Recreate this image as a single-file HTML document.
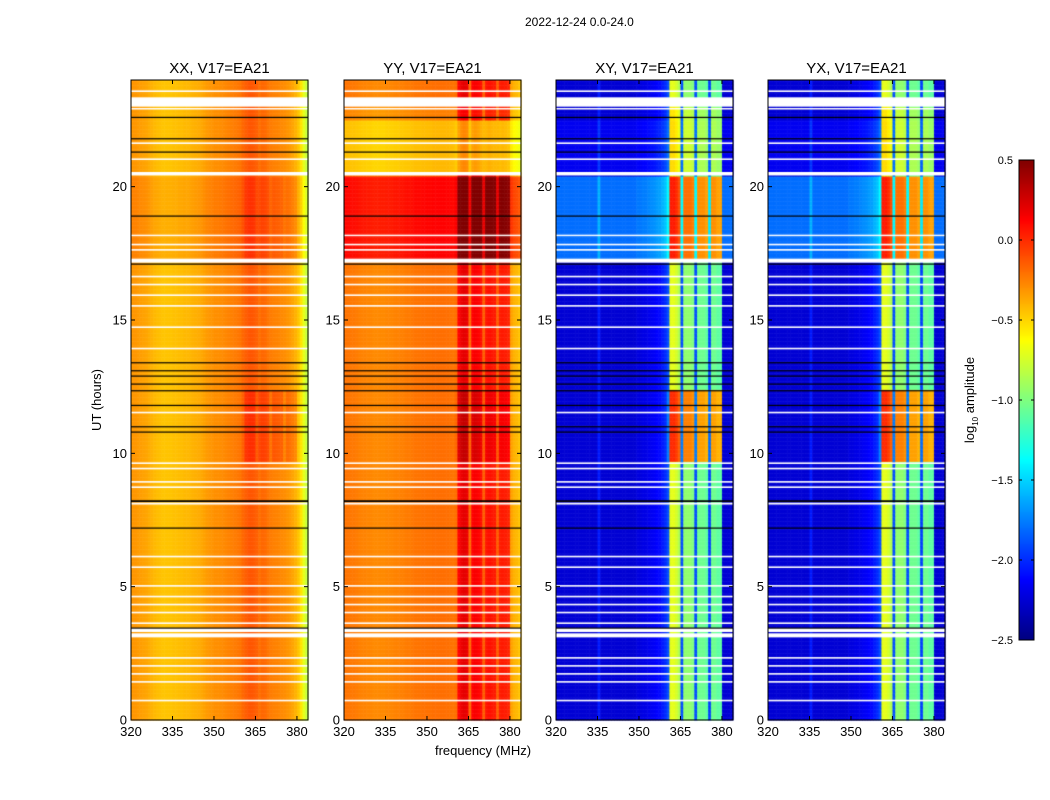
<!DOCTYPE html>
<html><head><meta charset="utf-8">
<style>
body{margin:0;background:#fff;width:1050px;height:800px;position:relative;overflow:hidden;font-family:"Liberation Sans",sans-serif;}
.t{position:absolute;font-size:13px;color:#000;white-space:nowrap}
.c{position:absolute}
svg{position:absolute;left:0;top:0}
</style></head><body>
<div class="t" style="left:525px;top:15px;font-size:12px">2022-12-24 0.0-24.0</div>
<canvas id="cv" class="c" width="1050" height="800" style="left:0;top:0"></canvas>
<svg id="ax" width="1050" height="800"></svg>
<script>
// frequency channels 320..383 MHz
const freqs = Array.from({length:64},(_, i)=>320+i);
const panelNames = ["XX, V17=EA21","YY, V17=EA21","XY, V17=EA21","YX, V17=EA21"];
const panelLeft = [131,344,556,768];
// per-channel base log10 amplitude
const profXX = [-0.32,-0.32,-0.33,-0.34,-0.35,-0.36,-0.38,-0.40,-0.42,-0.43,-0.44,-0.45,-0.45,-0.45,-0.45,-0.44,-0.44,-0.43,-0.43,-0.42,-0.42,-0.41,-0.40,-0.39,-0.38,-0.37,-0.35,-0.33,-0.32,-0.31,-0.30,-0.30,-0.29,-0.28,-0.27,-0.26,-0.25,-0.24,-0.23,-0.22,-0.18,-0.15,-0.13,-0.13,-0.14,-0.16,-0.20,-0.18,-0.19,-0.22,-0.24,-0.25,-0.26,-0.27,-0.28,-0.29,-0.31,-0.33,-0.36,-0.40,-0.45,-0.55,-0.70,-0.80];
const profYY = [-0.22,-0.22,-0.23,-0.23,-0.24,-0.25,-0.26,-0.26,-0.27,-0.27,-0.28,-0.28,-0.28,-0.28,-0.28,-0.27,-0.27,-0.27,-0.26,-0.26,-0.25,-0.25,-0.24,-0.24,-0.23,-0.22,-0.22,-0.22,-0.21,-0.21,-0.21,-0.21,-0.20,-0.20,-0.20,-0.20,-0.20,-0.20,-0.21,-0.22,-0.20,0.12,0.18,0.20,0.18,-0.18,0.12,0.14,0.12,0.08,-0.15,0.06,0.08,0.06,0.05,-0.15,0.04,0.05,0.04,0.02,-0.35,-0.40,-0.42,-0.45];
const profXY = [-2.25,-2.25,-2.25,-2.25,-2.25,-2.25,-2.25,-2.25,-2.25,-2.25,-2.25,-2.25,-2.25,-2.25,-2.25,-2.05,-2.25,-2.25,-2.25,-2.25,-2.25,-2.25,-2.25,-2.25,-2.25,-2.25,-2.25,-2.25,-2.25,-2.22,-2.22,-2.20,-2.20,-2.18,-2.16,-2.15,-2.12,-2.10,-2.05,-2.00,-1.90,-0.70,-0.70,-0.75,-0.85,-1.90,-0.95,-0.95,-0.95,-1.00,-1.90,-1.05,-1.05,-1.05,-1.10,-1.95,-1.05,-1.05,-1.10,-1.10,-2.25,-2.25,-2.25,-2.25];
const profYX = profXY.slice();
const bandWeight = [0,0,0,0,0,0,0,0,0,0,0,0,0,0,0,0,0,0,0,0,0,0,0,0,0,0,0,0,0,0,0,0,0,0,0,0,0,0,0,0,0.2,1,1,1,1,0.2,1,1,1,1,0.2,1,1,1,1,0.2,1,1,1,1,0,0,0,0];
// time segments (hours) and offsets per panel
const segStart = [17.3, 9.7, 20.55, 22.5];
const segEnd   = [20.4, 12.4, 22.5, 23.0];
const bgXX   = [0.06, 0.0, 0.0, 0.0];
const bandXX = [0.05, 0.12, 0.0, 0.0];
const bgYY   = [0.32, 0.0, -0.22, -0.05];
const bandYY = [0.12, 0.10, -0.25, 0.0];
const bgXY   = [0.45, 0.0, 0.08, 0.0];
const bandXY = [0.30, 0.70, 0.10, 0.15];
const bgYX   = [0.45, 0.0, 0.08, 0.0];
const bandYX = [0.30, 0.70, 0.10, 0.15];
// flagged (white) and separator (black) times in hours: [start,end]
const whiteStart = [23.0,22.9,20.42,17.15,3.1,3.3,8.08,0.7,1.4,1.7,2.0,2.3,3.6,4.0,4.3,4.6,5.0,5.7,6.1,15.5,14.7,15.9,16.3,16.6,11.5,9.6,9.4,8.7,8.9,17.8,17.6,21.6,21.0,23.55,18.2,13.9];
const whiteEnd   = [23.35,22.95,20.55,17.3,3.25,3.45,8.15,0.76,1.46,1.76,2.06,2.36,3.66,4.06,4.36,4.66,5.06,5.76,6.16,15.56,14.76,15.96,16.36,16.66,11.56,9.66,9.46,8.76,8.96,17.86,17.66,21.66,21.06,23.61,18.2,13.96];
const blackLines = [22.6,21.8,21.3,18.9,17.1,13.4,13.1,12.9,12.6,12.35,11.8,11.0,10.8,8.2,8.22,7.2,3.45];
const cbTicks = [0.5,0.0,-0.5,-1.0,-1.5,-2.0,-2.5];
const yTicks = [0,5,10,15,20];
const xTicks = [320,335,350,365,380];

const profs=[profXX,profYY,profXY,profYX], bgs=[bgXX,bgYY,bgXY,bgYX], bands=[bandXX,bandYY,bandXY,bandYX];
const TOP=80,BOT=720,PW=177,VMIN=-2.5,VMAX=0.5;
const yS=h=>BOT-(h/24)*(BOT-TOP);
const xS=(p,f)=>panelLeft[p]+(f-320)/64*PW;
function jet(v){let t=(v-VMIN)/(VMAX-VMIN);t=Math.max(0,Math.min(1,t));
 const f=x=>Math.max(0,Math.min(1,x));
 const r=f(1.5-Math.abs(4*t-3)),g=f(1.5-Math.abs(4*t-2)),b=f(1.5-Math.abs(4*t-1));
 return `rgb(${Math.round(r*255)},${Math.round(g*255)},${Math.round(b*255)})`;}
const ctx=document.getElementById('cv').getContext('2d');
const NR=480;
for(let p=0;p<4;p++){
 for(let r=0;r<NR;r++){
  const h0=r*24/NR,h1=(r+1)*24/NR,hm=(h0+h1)/2;
  let bo=0,ba=0;
  for(let s=0;s<segStart.length;s++) if(hm>=segStart[s]&&hm<segEnd[s]){bo+=bgs[p][s];ba+=bands[p][s];}
  const ya=yS(h1),yb=yS(h0);
  for(let c=0;c<64;c++){
   const v=profs[p][c]+bo+ba*bandWeight[c];
   ctx.fillStyle=jet(v);
   const xa=xS(p,freqs[c]),xb=xS(p,freqs[c]+1);
   ctx.fillRect(xa,ya,xb-xa+0.5,yb-ya+0.5);
  }
 }
 ctx.fillStyle='#fff';
 for(let i=0;i<whiteStart.length;i++){const a=yS(whiteEnd[i]),b=yS(whiteStart[i]);ctx.fillRect(panelLeft[p],a,PW,Math.max(1.5,b-a));}
 ctx.fillStyle='#000';
 for(const h of blackLines){ctx.fillRect(panelLeft[p],yS(h)-0.5,PW,1.2);}
}
// colorbar
const CBX=1019,CBW=15,CBT=160,CBB=640;
for(let y=CBT;y<CBB;y++){const v=VMAX-(y-CBT+0.5)/(CBB-CBT)*(VMAX-VMIN);ctx.fillStyle=jet(v);ctx.fillRect(CBX,y,CBW,1);}
const svg=document.getElementById('ax');const NS='http://www.w3.org/2000/svg';
function mk(tag,at,txt){const e=document.createElementNS(NS,tag);for(const k in at)e.setAttribute(k,at[k]);if(txt!==undefined)e.textContent=txt;svg.appendChild(e);return e;}
for(let p=0;p<4;p++){
 const fr=mk('rect',{x:panelLeft[p],y:TOP,width:PW,height:BOT-TOP,fill:'none',stroke:'#000','stroke-width':1});
 
 
 const tt=mk('text',{x:panelLeft[p]+PW/2,y:73,'font-size':15,'text-anchor':'middle','font-family':'Liberation Sans'},panelNames[p]);
 
 
 for(const f of xTicks){const x=xS(p,f);
  mk('line',{x1:x,x2:x,y1:BOT,y2:BOT-4,stroke:'#000'});mk('line',{x1:x,x2:x,y1:TOP,y2:TOP+4,stroke:'#000'});
  const l=mk('text',{x:x,y:736,'font-size':13,'text-anchor':'middle','font-family':'Liberation Sans'},String(f));
  
  }
 for(const h of yTicks){const y=yS(h);
  mk('line',{x1:panelLeft[p],x2:panelLeft[p]+4,y1:y,y2:y,stroke:'#000'});mk('line',{x1:panelLeft[p]+PW,x2:panelLeft[p]+PW-4,y1:y,y2:y,stroke:'#000'});
  const l=mk('text',{x:panelLeft[p]-4,y:y+4.5,'font-size':13,'text-anchor':'end','font-family':'Liberation Sans'},String(h));
  
  }
}
mk('rect',{x:CBX,y:CBT,width:CBW,height:CBB-CBT,fill:'none',stroke:'#000'});
for(const v of cbTicks){const y=CBT+(VMAX-v)/(VMAX-VMIN)*(CBB-CBT);
 mk('line',{x1:CBX,x2:CBX+3,y1:y,y2:y,stroke:'#000'});mk('line',{x1:CBX+CBW,x2:CBX+CBW-3,y1:y,y2:y,stroke:'#000'});
 const l=mk('text',{x:1013,y:y+4,'font-size':11,'text-anchor':'end','font-family':'Liberation Sans'},(v<0?'\u2212':'')+Math.abs(v).toFixed(1));
 
 }
const yl=mk('text',{x:0,y:0,'font-size':13,'text-anchor':'middle','font-family':'Liberation Sans',transform:'translate(101,400) rotate(-90)'},'UT (hours)');


const xl=mk('text',{x:483,y:755,'font-size':13,'text-anchor':'middle','font-family':'Liberation Sans'},'frequency (MHz)');


const cl=mk('text',{x:0,y:0,'font-size':13,'text-anchor':'middle','font-family':'Liberation Sans',transform:'translate(974,400) rotate(-90)'});


cl.innerHTML='log<tspan font-size="8" dy="4">10</tspan><tspan dy="-4"> amplitude</tspan>';
</script>
</body></html>
